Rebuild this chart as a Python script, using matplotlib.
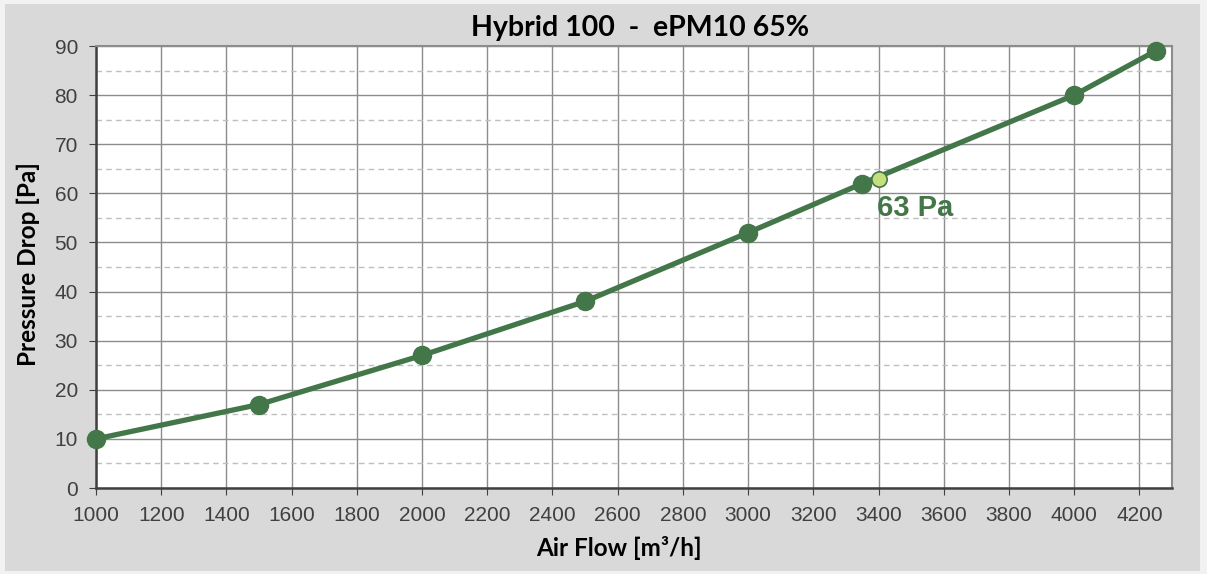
import matplotlib
matplotlib.use("Agg")
import matplotlib.pyplot as plt
from matplotlib.patches import Rectangle
from matplotlib.ticker import MultipleLocator

airflow = [1000, 1500, 2000, 2500, 3000, 3350, 4000, 4250]
pressure = [10, 17, 27, 38, 52, 62, 80, 89]
hl_flow = [3400]
hl_pressure = [63]
hl_label = "63 Pa"
x_ticks = list(range(1000, 4201, 200))
y_ticks = list(range(0, 91, 10))

green = "#437648"
light = "#c3e07c"

plt.rcParams["font.family"] = ["Liberation Sans", "DejaVu Sans"]

fig = plt.figure(figsize=(12.07, 5.74), dpi=100)
fig.patch.set_facecolor("#f2f2f2")
fig.patches.append(Rectangle((5/1207, 3/574), 1195/1207, 567/574, transform=fig.transFigure,
                             facecolor="#d9d9d9", edgecolor="none", zorder=-10))

ax = fig.add_axes([96/1207, 1 - 488/574, (1172-96)/1207, (488-46)/574])
ax.set_facecolor("white")
ax.set_xlim(1000, 4300)
ax.set_ylim(0, 90)
ax.set_xticks(x_ticks)
ax.set_yticks(y_ticks)
ax.yaxis.set_minor_locator(MultipleLocator(5))
ax.grid(which="major", axis="both", color="#8c8c8c", linewidth=1.0, linestyle="-")
ax.grid(which="minor", axis="y", color="#bfbfbf", linewidth=1.0, linestyle=(0, (4, 3)))
ax.tick_params(axis="y", which="minor", length=0)
ax.tick_params(axis="both", which="major", labelsize=15, labelcolor="#404040", length=5,
               color="#404040", pad=8)
ax.set_axisbelow(True)
for s in ["left", "bottom"]:
    ax.spines[s].set_color("#404040")
    ax.spines[s].set_linewidth(1.8)
for s in ["top", "right"]:
    ax.spines[s].set_color("#8c8c8c")
    ax.spines[s].set_linewidth(1.5)

ax.plot(airflow, pressure, color=green, linewidth=3.8, marker="o", markersize=13,
        markerfacecolor=green, markeredgecolor=green, zorder=3, clip_on=False)
ax.plot(hl_flow, hl_pressure, linestyle="none", marker="o", markersize=11,
        markerfacecolor=light, markeredgecolor=green, markeredgewidth=1.2, zorder=4)
ax.annotate(hl_label, (hl_flow[0], hl_pressure[0]), xytext=(-1, -11), textcoords="offset points",
            ha="left", va="top", fontsize=21, fontweight="bold", color=green)

fig.text(640/1207, 1 - 28/574, "Hybrid 100  -  ePM10 65%", fontsize=20.5, fontweight="bold",
         family="Lato", ha="center", va="center")
ax.set_xlabel("Air Flow [m³/h]", fontsize=17.5, fontweight="bold", family="Lato")
ax.xaxis.set_label_coords((619 - 96) / (1172 - 96), -(548 - 488) / (488 - 46))
ax.xaxis.label.set_va("center")
ax.set_ylabel("Pressure Drop [Pa]", fontsize=17.5, fontweight="bold", family="Lato")
ax.yaxis.set_label_coords(-(96 - 28) / (1172 - 96), (488 - 264) / (488 - 46))
ax.yaxis.label.set_va("center")

fig.savefig("out.png", dpi=100, facecolor=fig.get_facecolor())
